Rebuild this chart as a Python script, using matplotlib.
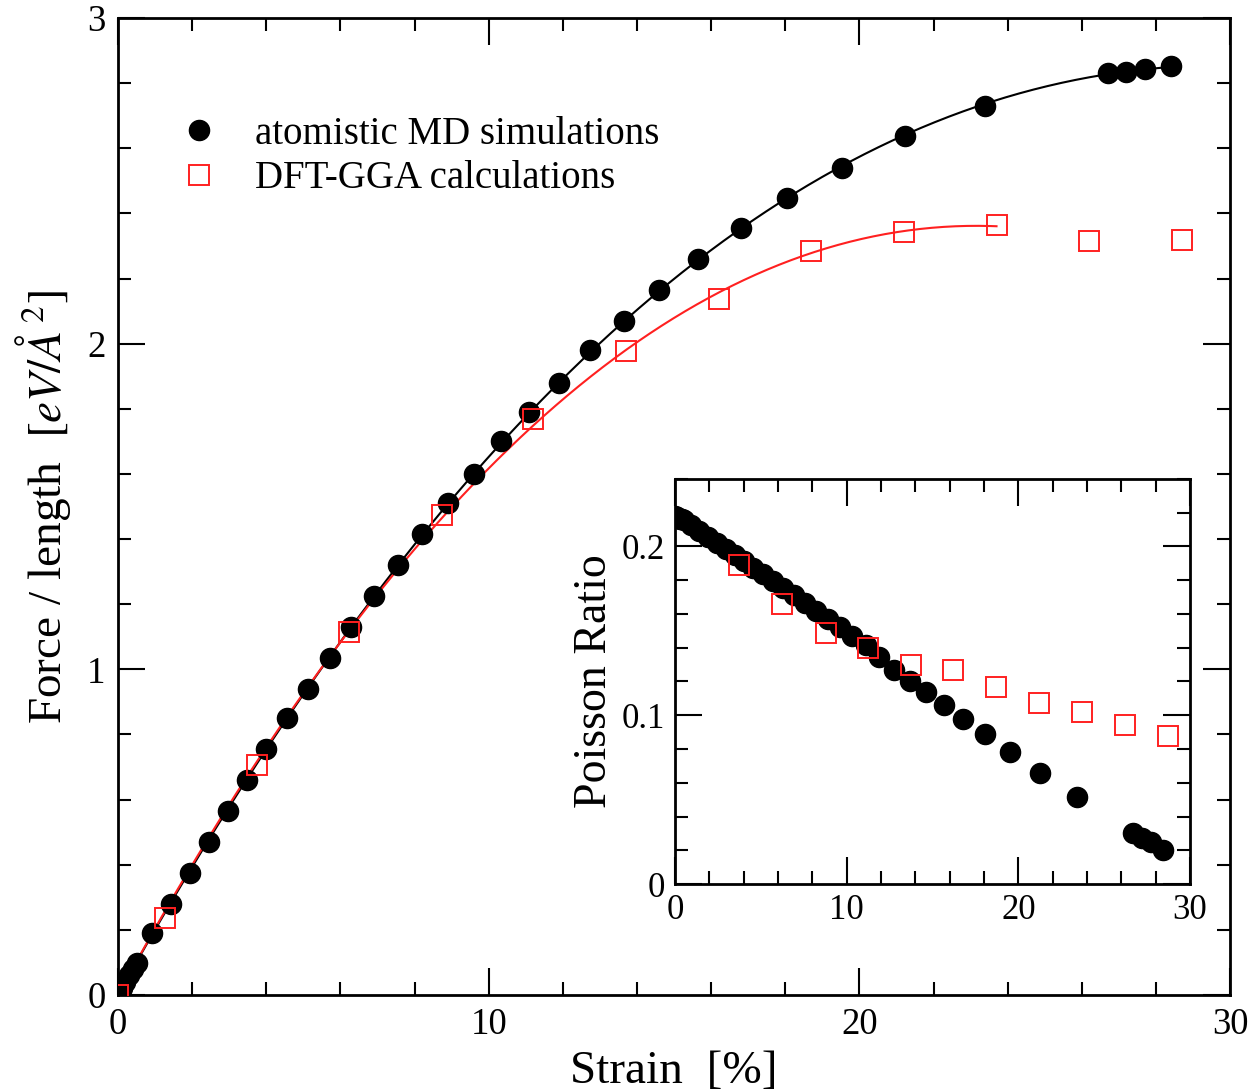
import numpy as np
import matplotlib
matplotlib.use("Agg")
import matplotlib.pyplot as plt
from matplotlib.ticker import MultipleLocator, FuncFormatter
from matplotlib.lines import Line2D

plt.rcParams["font.family"] = ["Liberation Serif", "DejaVu Serif"]
plt.rcParams["mathtext.fontset"] = "stix"

# ---- atomistic MD simulations ----
md_strain = [0.0, 0.1, 0.2, 0.3, 0.4, 0.5, 0.93, 1.42, 1.94, 2.45, 2.96, 3.47,
             4.0, 4.57, 5.13, 5.73, 6.29, 6.91, 7.55, 8.2, 8.9, 9.6, 10.32,
             11.1, 11.9, 12.74, 13.66, 14.6, 15.65, 16.8, 18.06, 19.54, 21.24,
             23.4, 26.7, 27.2, 27.7, 28.4]
md_force = [0.0, 0.02, 0.04, 0.06, 0.08, 0.097, 0.19, 0.28, 0.375, 0.47, 0.565,
            0.66, 0.755, 0.85, 0.94, 1.035, 1.13, 1.225, 1.32, 1.415, 1.51,
            1.60, 1.70, 1.79, 1.88, 1.98, 2.07, 2.165, 2.26, 2.355, 2.447,
            2.54, 2.637, 2.73, 2.83, 2.835, 2.843, 2.853]
md_poisson = [0.218, 0.2175, 0.217, 0.2165, 0.216, 0.2155, 0.2125, 0.209,
              0.2055, 0.202, 0.1985, 0.195, 0.1915, 0.1875, 0.1835, 0.1795,
              0.1755, 0.171, 0.1665, 0.162, 0.157, 0.152, 0.147, 0.1415,
              0.1345, 0.1266, 0.120, 0.1136, 0.106, 0.098, 0.0888, 0.078,
              0.066, 0.0516, 0.030, 0.027, 0.0248, 0.020]

# ---- DFT-GGA calculations ----
dft_strain = [0.0, 1.26, 3.74, 6.24, 8.74, 11.2, 13.7, 16.2, 18.7, 21.2,
              23.7, 26.2, 28.7]
dft_force = [0.0, 0.236, 0.706, 1.115, 1.474, 1.77, 1.977, 2.137, 2.284,
             2.343, 2.364, 2.315, 2.318]
dft_pois_strain = [3.72, 6.22, 8.78, 11.22, 13.72, 16.2, 18.7, 21.2, 23.7,
                   26.2, 28.7]
dft_poisson = [0.189, 0.166, 0.149, 0.140, 0.1296, 0.1266, 0.117, 0.107,
               0.1018, 0.094, 0.0876]
dft_fit_points = 11  # fit uses points up to the force maximum

labels = ["atomistic MD simulations", "DFT-GGA calculations"]
red = "#ff2020"


def poly_fit(x, y, order=3):
    """Least-squares polynomial through the origin: F = sum c_k e^k."""
    x = np.asarray(x, float)
    y = np.asarray(y, float)
    A = np.column_stack([x ** k for k in range(1, order + 1)])
    coef, *_ = np.linalg.lstsq(A, y, rcond=None)
    xs = np.linspace(0, x.max(), 300)
    ys = sum(c * xs ** (k + 1) for k, c in enumerate(coef))
    return xs, ys


fig = plt.figure(figsize=(12.54, 10.91), dpi=100)
ax = fig.add_axes([0.0941, 0.088, 0.8868, 0.8955])

mk = dict(linestyle="none")
ax.plot(*poly_fit(md_strain, md_force), color="black", lw=1.5, zorder=2)
ax.plot(*poly_fit(dft_strain[:dft_fit_points], dft_force[:dft_fit_points]),
        color=red, lw=1.5, zorder=2)
ax.plot(md_strain, md_force, marker="o", ms=14.5, color="black", **mk, zorder=3)
ax.plot(dft_strain, dft_force, marker="s", ms=14, mfc="none", mec=red,
        mew=1.4, **mk, zorder=4)

ax.set_xlim(0, 30)
ax.set_ylim(0, 3)
ax.xaxis.set_major_locator(MultipleLocator(10))
ax.xaxis.set_minor_locator(MultipleLocator(2))
ax.yaxis.set_major_locator(MultipleLocator(1))
ax.yaxis.set_minor_locator(MultipleLocator(0.2))


def style_axes(a, labelsize, pad):
    a.tick_params(which="both", direction="in", top=True, right=True,
                  width=1.5, labelsize=labelsize, pad=pad)
    a.tick_params(which="major", length=19.5)
    a.tick_params(which="minor", length=9.5)
    for s in a.spines.values():
        s.set_linewidth(2)


style_axes(ax, 26.5, 9)
ax.set_xlabel("Strain  [%]", fontsize=34, labelpad=6)
ax.set_ylabel(r"Force / length  $[eV/\AA^2]$", fontsize=34, labelpad=10)

handles = [Line2D([], [], marker="o", ms=14.5, color="black", ls="none"),
           Line2D([], [], marker="s", ms=14, mfc="none", mec=red, mew=1.4,
                  ls="none")]
ax.legend(handles, labels, loc="upper left", bbox_to_anchor=(0.057, 0.9),
          frameon=False, fontsize=28, handlelength=0.9, handletextpad=1.0,
          labelspacing=0.2, borderpad=0, borderaxespad=0, numpoints=1)

# ---- inset: Poisson ratio ----
ins = fig.add_axes([0.5383, 0.1897, 0.4107, 0.3713])
ins.set_facecolor("white")
ins.plot(md_strain, md_poisson, marker="o", ms=14.5, color="black", **mk,
         zorder=3)
ins.plot(dft_pois_strain, dft_poisson, marker="s", ms=14, mfc="none",
         mec=red, mew=1.4, **mk, zorder=4)
ins.set_xlim(0, 30)
ins.set_ylim(0, 0.24)
ins.xaxis.set_major_locator(MultipleLocator(10))
ins.xaxis.set_minor_locator(MultipleLocator(2))
ins.yaxis.set_major_locator(MultipleLocator(0.1))
ins.yaxis.set_minor_locator(MultipleLocator(0.02))
ins.yaxis.set_major_formatter(FuncFormatter(
    lambda v, p: "0" if abs(v) < 1e-9 else f"{v:.1f}"))
style_axes(ins, 25, 7)
ins.set_ylabel("Poisson Ratio", fontsize=33, labelpad=4)

fig.savefig("out.png", dpi=100)
